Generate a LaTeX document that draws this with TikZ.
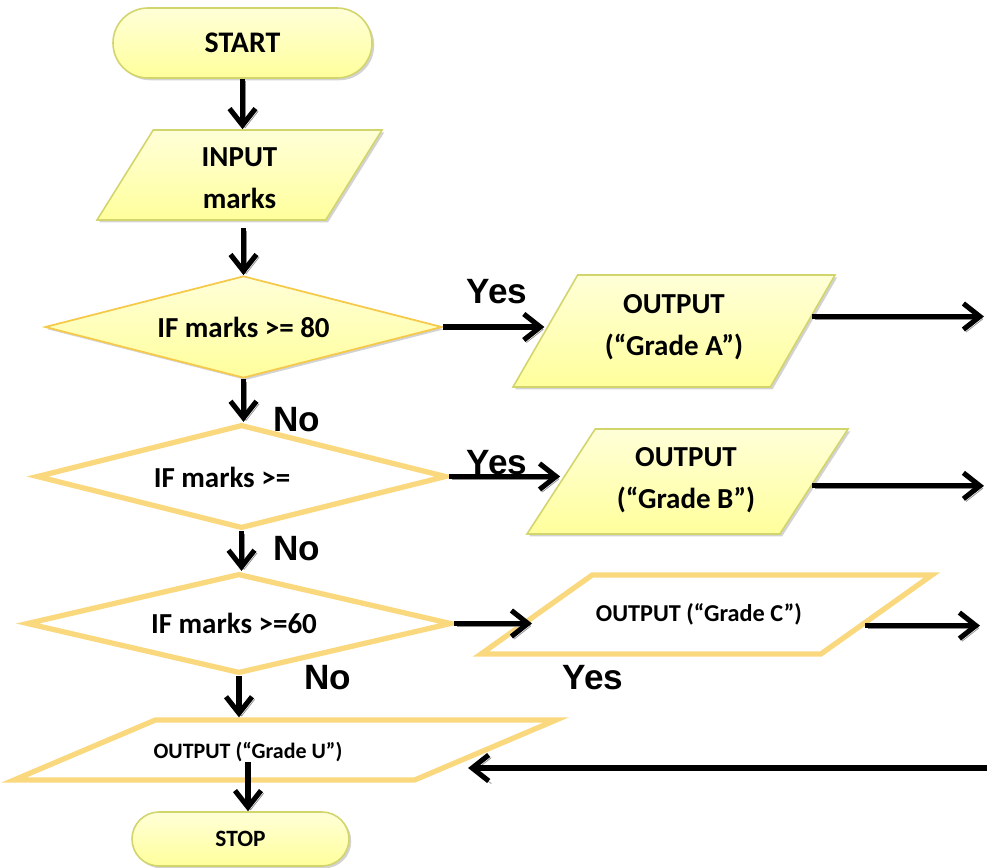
\documentclass[tikz,border=0pt]{standalone}
\usepackage{fontspec}
\setmainfont{Carlito}
\newfontfamily\arialfont{Liberation Sans}
\usetikzlibrary{shapes.geometric,shapes.misc,arrows.meta,shadows}
\definecolor{paleY}{HTML}{FFFFD8}
\definecolor{deepY}{HTML}{FFFF9C}
\definecolor{oliveLine}{HTML}{D2D46C}
\definecolor{goldLine}{HTML}{F6C94A}
\definecolor{sandLine}{HTML}{FAD87E}
\def\bigtxt{\bfseries\fontsize{16.5}{24}\selectfont}
\def\smalltxt{\bfseries\fontsize{13.3}{16}\selectfont}
\tikzset{
  base/.style={font=\bigtxt, align=center, inner sep=0pt},
  shade yellow/.style={top color=paleY, bottom color=deepY,
    drop shadow={shadow xshift=1.3pt, shadow yshift=-1.3pt, opacity=.35}},
  term/.style={base, rounded rectangle, draw=oliveLine, line width=0.9pt, shade yellow},
  io/.style={base, trapezium, trapezium stretches body, draw=oliveLine, line width=0.9pt, shade yellow},
  ioplain/.style={base, trapezium, trapezium stretches body, draw=sandLine, line width=3pt, fill=white},
  test/.style={base, diamond, aspect=4, draw=goldLine, line width=1pt, shade yellow},
  testplain/.style={base, diamond, aspect=4, draw=sandLine, line width=3pt, fill=white},
  arr/.style={line width=2.9pt, -{Straight Barb[length=3.3mm,width=5.2mm]},
    preaction={draw=black!45, transform canvas={shift={(1.5pt,-1.5pt)}}}},
  yesno/.style={font=\arialfont\bfseries\fontsize{20}{24}\selectfont, inner sep=0pt}
}

\begin{document}
\begin{tikzpicture}[x=0.2mm,y=-0.2mm]
\useasboundingbox (0,0) rectangle (987,867);

\node[term, minimum width=51.8mm, minimum height=14mm, font=\bfseries\fontsize{17}{20}\selectfont] (start) at (242.5,43) {START};
\node[io, inner ysep=9mm, minimum width=57mm, trapezium left angle=58, trapezium right angle=122] (input) at (239.5,175) {};
\node[base] (inputTxt) at (239.5,178) {INPUT\\marks};
\node[test, minimum width=79.4mm, minimum height=20.4mm] (ifA) at (243.5,327) {IF marks >= 80};
\node[testplain, minimum width=82mm, minimum height=20.8mm] (ifB) at (241.5,476.5) {};
\node[base] (ifBtxt) at (222,477) {IF marks >=};
\node[testplain, minimum width=85mm, minimum height=20mm] (ifC) at (239,623.5) {};
\node[base] (ifCtxt) at (234,623) {IF marks >=60};
\node[io, inner ysep=11.2mm, minimum width=64.4mm, trapezium left angle=60, trapezium right angle=120] (outA) at (674,331) {};
\node[base] (outATxt) at (674,327) {OUTPUT\\(“Grade A”)};
\node[io, inner ysep=10.5mm, minimum width=64.2mm, trapezium left angle=57, trapezium right angle=123] (outB) at (687.5,481.5) {};
\node[base] (outBTxt) at (686,480) {OUTPUT\\(“Grade B”)};
\node[ioplain, inner ysep=7.9mm, minimum width=90.2mm, trapezium left angle=35.4, trapezium right angle=144.6] (outC) at (706.5,614.5) {};
\node[base, font=\bfseries\fontsize{13.8}{16}\selectfont] (outCTxt) at (699,614) {OUTPUT (“Grade C”)};
\node[ioplain, inner ysep=6mm, minimum width=108.4mm, trapezium left angle=23, trapezium right angle=157] (outU) at (285,750) {};
\node[base, font=\bfseries\fontsize{12.5}{15}\selectfont] (outUTxt) at (248,752) {OUTPUT (“Grade U”)};
\node[term, minimum width=43.4mm, minimum height=10.8mm, font=\smalltxt] (stop) at (240.5,839) {STOP};

\coordinate (endA) at (984,317);
\coordinate (endB) at (984,486);
\coordinate (endC) at (980,625);
\coordinate (endU) at (987,768);

\node[yesno] (yesA) at (497,292) {Yes};
\node[yesno] (yesB) at (497,463) {Yes};
\node[yesno] (yesC) at (593,678) {Yes};
\node[yesno] (noA) at (297,420) {No};
\node[yesno] (noB) at (297,549) {No};
\node[yesno] (noC) at (328,678) {No};

\draw[arr] (start.south) -- (start.south |- input.north);
\draw[arr, shorten <=1.5mm] (ifA.north |- input.south) -- (ifA.north);
\draw[arr] (ifA.south) -- (ifA.south |- ifB.north);
\draw[arr] (ifB.south) -- (ifB.south |- ifC.north);
\draw[arr] (ifC.south) -- (ifC.south |- outU.north);
\draw[arr] (outUTxt.south) -- (outUTxt.south |- stop.north);

\draw[arr] (ifA.east) -- (ifA.east -| outA.west);
\draw[arr] (ifB.east) -- (ifB.east -| outB.west);
\draw[arr] (ifC.east) -- (ifC.east -| outC.west);

\draw[arr] (outA.6) -- (outA.6 -| endA);
\draw[arr] (outB.-2) -- (outB.-2 -| endB);
\draw[arr] (outC.-4) -- (outC.-4 -| endC);
\draw[arr, shorten >=-4.8mm] (endU) -- (endU -| outU.east);
\end{tikzpicture}
\end{document}
